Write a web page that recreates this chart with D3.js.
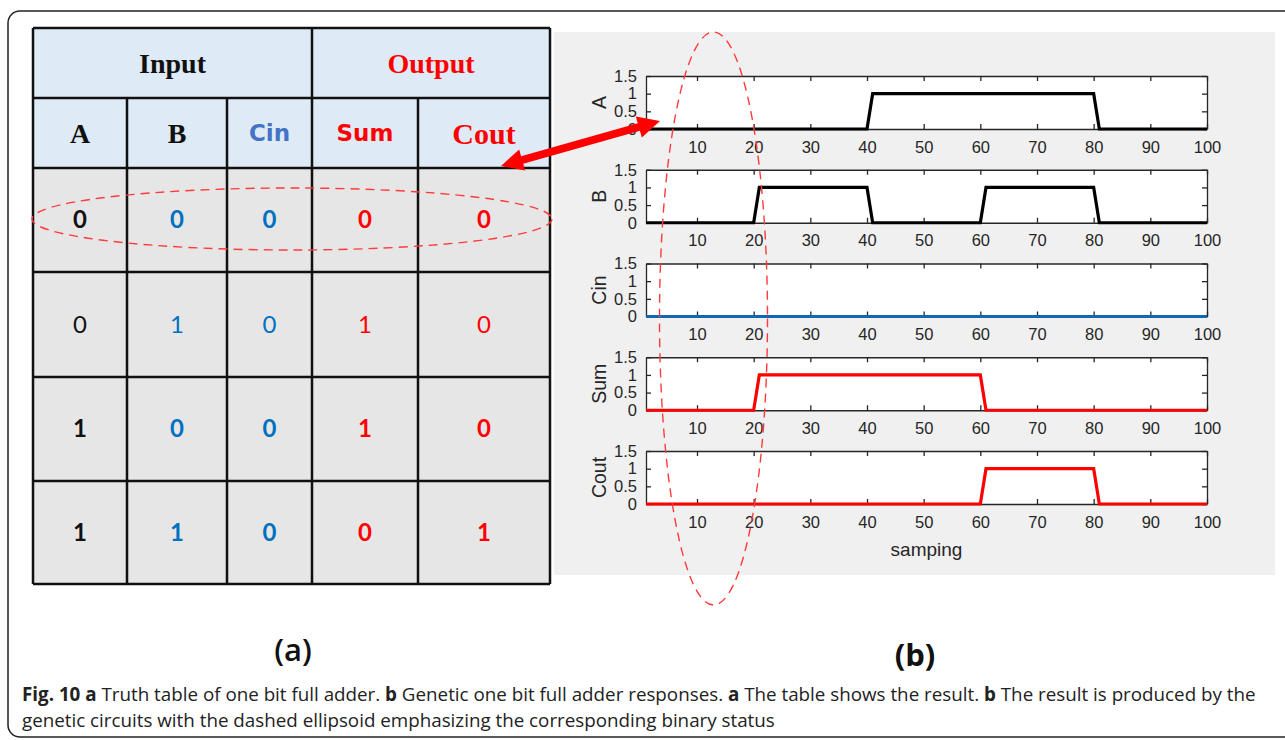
<!DOCTYPE html>
<html><head><meta charset="utf-8">
<script src="https://cdn.jsdelivr.net/npm/d3@7"></script>
<style>body{margin:0;background:#fff}svg{display:block}</style></head>
<body><svg id="c" width="1285" height="740"></svg>
<script>
// ---------- data ----------
const tableGroups = ["Input", "Output"];
const tableCols = ["A", "B", "Cin", "Sum", "Cout"];
const truthRows = [[0,0,0,0,0],[0,1,0,1,0],[1,0,0,1,0],[1,1,0,0,1]];
const signalNames = ["A", "B", "Cin", "Sum", "Cout"];
const A_x = [1,40,41,80,81,100],            A_y = [0,0,1,1,0,0];
const B_x = [1,20,21,40,41,60,61,80,81,100], B_y = [0,0,1,1,0,0,1,1,0,0];
const Cin_x = [1,100],                        Cin_y = [0,0];
const Sum_x = [1,20,21,60,61,100],            Sum_y = [0,0,1,1,0,0];
const Cout_x = [1,60,61,80,81,100],           Cout_y = [0,0,1,1,0,0];
const xTicks = [10,20,30,40,50,60,70,80,90,100];
const yTicks = [0,0.5,1,1.5];
const yTickLabels = ["0","0.5","1","1.5"];
const xLabel = "samping";
const panelLabels = ["(a)", "(b)"];

// ---------- setup ----------
const svg = d3.select("#c");
const RED = "#ff0000", BLUE = "#0070c0";
const serif = "'Liberation Serif','DejaVu Serif',serif";
const sans = "Lato,'Open Sans',sans-serif";
const vsans = "'DejaVu Sans',Verdana,sans-serif";
const mat = "'Liberation Sans',Arial,sans-serif";

// outer rounded frame
svg.append("rect").attr("x",8).attr("y",11).attr("width",1300).attr("height",726)
  .attr("rx",12).attr("fill","none").attr("stroke","#222").attr("stroke-width",1.5);

// ---------- table ----------
const colX = [33,127,227,312,418,550];
const rowY = [28,98,168,272,377,481,584];
const tg = svg.append("g");
tg.append("rect").attr("x",colX[0]).attr("y",rowY[0]).attr("width",colX[5]-colX[0])
  .attr("height",rowY[2]-rowY[0]).attr("fill","#deebf7");
tg.append("rect").attr("x",colX[0]).attr("y",rowY[2]).attr("width",colX[5]-colX[0])
  .attr("height",rowY[6]-rowY[2]).attr("fill","#e6e6e6");
const lineStyle = s => s.attr("stroke","#111").attr("stroke-width",2.5);
rowY.forEach(y => tg.append("line").attr("x1",colX[0]).attr("x2",colX[5]).attr("y1",y).attr("y2",y).call(lineStyle));
colX.forEach((x,i) => {
  const y1 = (i===0||i===3||i===5) ? rowY[0] : rowY[1];
  tg.append("line").attr("x1",x).attr("x2",x).attr("y1",y1).attr("y2",rowY[6]).call(lineStyle);
});
const groupSpans = [[0,3],[3,5]];
tg.selectAll("text.grp").data(tableGroups).join("text").attr("class","grp")
  .attr("x",(d,i)=>(colX[groupSpans[i][0]]+colX[groupSpans[i][1]])/2)
  .attr("y",(rowY[0]+rowY[1])/2).attr("dy","0.35em").attr("text-anchor","middle")
  .attr("font-family",serif).attr("font-weight","bold").attr("font-size",28)
  .attr("fill",(d,i)=>i===0?"#111":RED).text(d=>d);
const colColor = ["#111","#111","#4472c4",RED,RED];
const colHeadFont = [serif,serif,vsans,vsans,serif];
const colHeadSize = [28,28,23,23,30];
tg.selectAll("text.col").data(tableCols).join("text").attr("class","col")
  .attr("x",(d,i)=>(colX[i]+colX[i+1])/2).attr("y",(rowY[1]+rowY[2])/2).attr("dy","0.35em")
  .attr("text-anchor","middle").attr("font-weight","bold")
  .attr("font-family",(d,i)=>colHeadFont[i]).attr("font-size",(d,i)=>colHeadSize[i])
  .attr("fill",(d,i)=>colColor[i]).text(d=>d);
const cellColor = ["#111",BLUE,BLUE,RED,RED];
truthRows.forEach((row,r) => {
  tg.selectAll("text.r"+r).data(row).join("text").attr("class","r"+r)
    .attr("x",(d,i)=>(colX[i]+colX[i+1])/2).attr("y",(rowY[r+2]+rowY[r+3])/2).attr("dy","0.35em")
    .attr("text-anchor","middle").attr("font-family",sans)
    .attr("font-weight", r===1 ? "normal" : "bold").attr("font-size",24)
    .attr("fill",(d,i)=>cellColor[i]).text(d=>d);
});

// ---------- right panel ----------
svg.append("rect").attr("x",554).attr("y",32).attr("width",721).attr("height",543).attr("fill","#f0f0f0");

const plotL = 646, plotR = 1207, plotH = 53, plotTop0 = 76, plotStep = 93.75;
const x = d3.scaleLinear().domain([1,100]).range([plotL,plotR]);
const series = [[A_x,A_y],[B_x,B_y],[Cin_x,Cin_y],[Sum_x,Sum_y],[Cout_x,Cout_y]];
const seriesColor = ["#000","#000","#1068b0",RED,RED];
const axisColor = "#262626";

signalNames.forEach((name,i) => {
  const top = plotTop0 + i*plotStep;
  const y = d3.scaleLinear().domain([0,1.5]).range([top+plotH, top]);
  const g = svg.append("g");
  g.append("rect").attr("x",plotL).attr("y",top).attr("width",plotR-plotL).attr("height",plotH).attr("fill","#fff");
  const bottom = g.append("g").attr("transform",`translate(0,${top+plotH})`)
    .call(d3.axisBottom(x).tickValues(xTicks).tickSize(-5).tickPadding(12).tickSizeOuter(0));
  const topAx = g.append("g").attr("transform",`translate(0,${top})`)
    .call(d3.axisTop(x).tickValues(xTicks).tickSize(-5).tickFormat("").tickSizeOuter(0));
  const left = g.append("g").attr("transform",`translate(${plotL},0)`)
    .call(d3.axisLeft(y).tickValues(yTicks).tickSize(-5).tickPadding(9).tickSizeOuter(0)
      .tickFormat((d,j)=>yTickLabels[j]));
  const right = g.append("g").attr("transform",`translate(${plotR},0)`)
    .call(d3.axisRight(y).tickValues(yTicks).tickSize(-5).tickFormat("").tickSizeOuter(0));
  [bottom,topAx,left,right].forEach(a => {
    a.selectAll("path").attr("stroke",axisColor).attr("stroke-width",1.3);
    a.selectAll("line").attr("stroke",axisColor).attr("stroke-width",1.3);
    a.selectAll("text").attr("fill",axisColor).attr("font-family",mat).attr("font-size",16.5);
  });
  const [xs,ys] = series[i];
  const pts = xs.map((v,k)=>[v,ys[k]]);
  g.append("path").datum(pts)
    .attr("d", d3.line().x(d=>x(d[0])).y(d=>y(d[1])))
    .attr("fill","none").attr("stroke",seriesColor[i]).attr("stroke-width",3.2)
    .attr("stroke-linejoin","miter");
  g.append("text").attr("transform",`translate(599,${top+plotH/2}) rotate(-90)`)
    .attr("text-anchor","middle").attr("dy","0.35em")
    .attr("font-family",mat).attr("font-size",19.5).attr("fill",axisColor).text(name);
});
svg.append("text").attr("x",(plotL+plotR)/2).attr("y",556).attr("text-anchor","middle")
  .attr("font-family",mat).attr("font-size",19).attr("fill",axisColor).text(xLabel);

// ---------- annotations ----------
const dashRed = "#ff3b3b";
svg.append("ellipse").attr("cx",292).attr("cy",219).attr("rx",260).attr("ry",31)
  .attr("fill","none").attr("stroke",dashRed).attr("stroke-width",1.4).attr("stroke-dasharray","9,6");
svg.append("ellipse").attr("cx",713.5).attr("cy",318.5).attr("rx",54).attr("ry",286.5)
  .attr("fill","none").attr("stroke",dashRed).attr("stroke-width",1.4).attr("stroke-dasharray","9,6");

(function(){
  const p1=[501,166], p2=[660,121];
  const dx=p2[0]-p1[0], dy=p2[1]-p1[1], L=Math.hypot(dx,dy);
  const ux=dx/L, uy=dy/L, nx=-uy, ny=ux;
  const hl=22, hw=11, sw=4;
  const P=(s,t)=>[p1[0]+ux*s+nx*t, p1[1]+uy*s+ny*t];
  const poly=[P(0,0),P(hl,hw),P(hl,sw),P(L-hl,sw),P(L-hl,hw),P(L,0),P(L-hl,-hw),P(L-hl,-sw),P(hl,-sw),P(hl,-hw)];
  svg.append("polygon").attr("points",poly.map(p=>p.join(",")).join(" ")).attr("fill","#ff0000");
})();

const capFont = "'Open Sans','Noto Sans',sans-serif";
svg.append("text").attr("x",293).attr("y",661).attr("text-anchor","middle")
  .attr("font-family",capFont).attr("font-weight",600).attr("font-size",31).attr("fill","#111").text(panelLabels[0]);
svg.append("text").attr("x",915).attr("y",666).attr("text-anchor","middle")
  .attr("font-family",capFont).attr("font-weight","bold").attr("font-size",31).attr("fill","#111").text(panelLabels[1]);

const cap1 = [["Fig. 10 a",1],[" Truth table of one bit full adder. ",0],["b",1],[" Genetic one bit full adder responses. ",0],["a",1],[" The table shows the result. ",0],["b",1],[" The result is produced by the",0]];
const cap2 = [["genetic circuits with the dashed ellipsoid emphasizing the corresponding binary status",0]];
[[cap1,701],[cap2,727]].forEach(([parts,yy]) => {
  const t = svg.append("text").attr("x",22).attr("y",yy).attr("font-family",capFont)
    .attr("font-size",18.8).attr("fill","#222").attr("xml:space","preserve");
  parts.forEach(([s,b]) => t.append("tspan").attr("font-weight",b?"bold":"normal").text(s));
});
</script></body></html>
